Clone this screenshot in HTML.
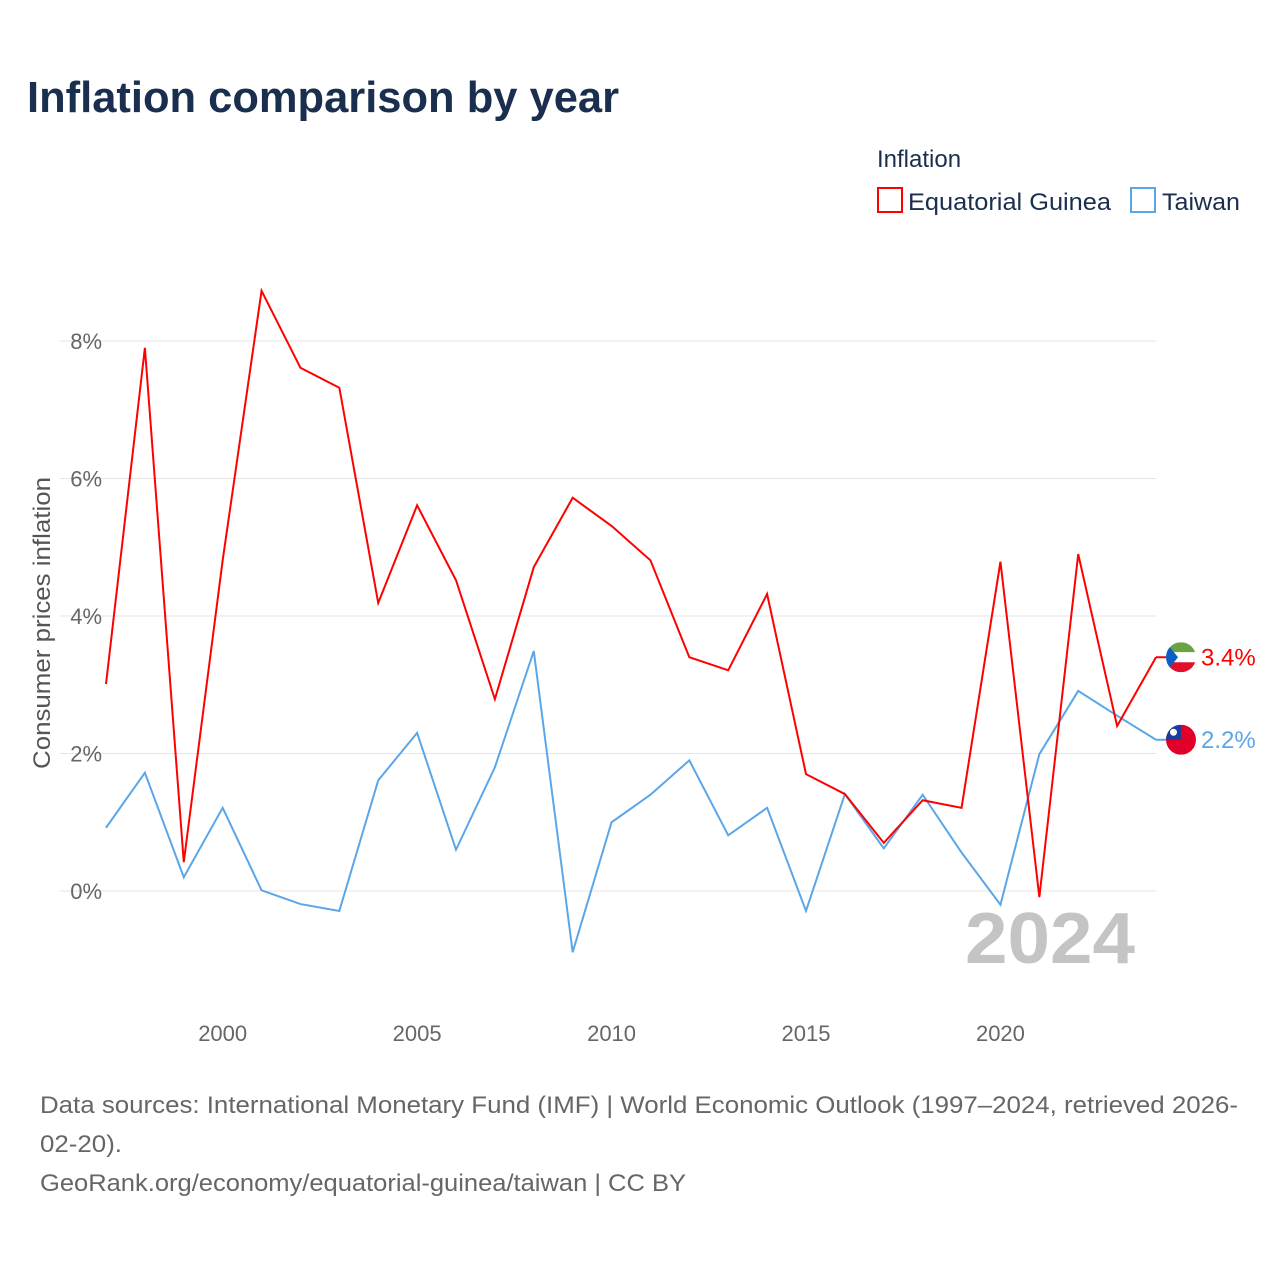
<!DOCTYPE html>
<html><head><meta charset="utf-8"><style>
body{margin:0;background:#fff;font-family:"Liberation Sans",sans-serif;}
svg text{font-family:"Liberation Sans",sans-serif;}
</style></head><body>
<svg width="1280" height="1280" viewBox="0 0 1280 1280">
<text x="27" y="112" font-size="44" font-weight="bold" fill="#1a2e4f" textLength="592" lengthAdjust="spacingAndGlyphs">Inflation comparison by year</text>
<text x="877" y="167" font-size="24" fill="#1a2e4f">Inflation</text>
<g>
<rect x="878" y="188" width="24" height="24" fill="none" stroke="#ff0000" stroke-width="2"/>
<text x="908" y="210" font-size="24" fill="#1a2e4f" textLength="203" lengthAdjust="spacingAndGlyphs">Equatorial Guinea</text></g>
<g>
<rect x="1131" y="188" width="24" height="24" fill="none" stroke="#5aa6e8" stroke-width="2"/>
<text x="1162" y="210" font-size="24" fill="#1a2e4f" textLength="78" lengthAdjust="spacingAndGlyphs">Taiwan</text></g>
<g id="grid"></g>
<g id="yticks"></g>
<g id="xticks"></g>
<text x="50" y="623" font-size="24" fill="#555" transform="rotate(-90 50 623)" text-anchor="middle" textLength="292" lengthAdjust="spacingAndGlyphs">Consumer prices inflation</text>
<text x="1135" y="963" font-size="72" font-weight="bold" fill="#c4c4c4" text-anchor="end" textLength="170" lengthAdjust="spacingAndGlyphs">2024</text>
<g id="series"></g>
<g font-size="24" fill="#666">
<text x="40" y="1113" textLength="1198" lengthAdjust="spacingAndGlyphs">Data sources: International Monetary Fund (IMF) | World Economic Outlook (1997–2024, retrieved 2026-</text>
<text x="40" y="1152" textLength="82" lengthAdjust="spacingAndGlyphs">02-20).</text>
<text x="40" y="1191" textLength="646" lengthAdjust="spacingAndGlyphs">GeoRank.org/economy/equatorial-guinea/taiwan | CC BY</text>
</g>
</svg>
<script>
const years=[1997,1998,1999,2000,2001,2002,2003,2004,2005,2006,2007,2008,2009,2010,2011,2012,2013,2014,2015,2016,2017,2018,2019,2020,2021,2022,2023,2024];
const equatorialGuinea=[3.01,7.9,0.42,4.81,8.73,7.61,7.32,4.19,5.61,4.52,2.79,4.71,5.72,5.31,4.81,3.40,3.21,4.32,1.70,1.41,0.70,1.32,1.21,4.79,-0.09,4.90,2.40,3.4];
const taiwan=[0.92,1.72,0.20,1.21,0.01,-0.19,-0.29,1.61,2.30,0.60,1.80,3.49,-0.89,1.0,1.40,1.9,0.81,1.21,-0.29,1.41,0.62,1.40,0.56,-0.2,1.99,2.91,2.55,2.20];
const yTicks=[0,2,4,6,8];
const xTicks=[2000,2005,2010,2015,2020];
const NS="http://www.w3.org/2000/svg";
const X=y=>106+(y-1997)*(1156-106)/27;
const Y=v=>891-v*68.75;
function mk(t,a,p){const e=document.createElementNS(NS,t);for(const k in a)e.setAttribute(k,a[k]);p.appendChild(e);return e;}
const grid=document.getElementById('grid'),yt=document.getElementById('yticks'),xt=document.getElementById('xticks'),ser=document.getElementById('series');
yTicks.forEach(v=>{
const l=mk('line',{x1:60,x2:1156,y1:Y(v),y2:Y(v),stroke:'#e6e6e6','stroke-width':1},grid);


const t=mk('text',{x:102,y:Y(v)+8,'font-size':22,fill:'#666','text-anchor':'end'},yt);t.textContent=v+'%';


});
xTicks.forEach(v=>{
const t=mk('text',{x:X(v),y:1041,'font-size':22,fill:'#666','text-anchor':'middle'},xt);t.textContent=v;


});
function line(vals,col,name){
const p=mk('polyline',{points:vals.map((v,i)=>X(years[i])+','+Y(v)).join(' '),fill:'none',stroke:col,'stroke-width':2,'stroke-linejoin':'miter'},ser);


}
line(taiwan,'#5aa6e8','taiwan-line');
line(equatorialGuinea,'#ff0000','equatorial-guinea-line');
function endLabel(vals,col,name,flag){
const v=vals[vals.length-1],x=X(years[years.length-1]),y=Y(v);
mk('line',{x1:x,x2:x+10,y1:y,y2:y,stroke:col,'stroke-width':2},ser);
const g=mk('g',{},ser);


flag(g,x+25,y);
const t=mk('text',{x:x+45,y:y+8,'font-size':24,fill:col},ser);t.textContent=v.toFixed(1)+'%';


}
endLabel(equatorialGuinea,'#ff0000','equatorial-guinea',(g,cx,cy)=>{
mk('clipPath',{id:'c1'},g).appendChild(document.createElementNS(NS,'circle')).setAttribute('r',15);
const cp=g.lastChild.firstChild;cp.setAttribute('cx',cx);cp.setAttribute('cy',cy);
const h=mk('g',{'clip-path':'url(#c1)'},g);
mk('rect',{x:cx-15,y:cy-15,width:30,height:10,fill:'#6ba245'},h);
mk('rect',{x:cx-15,y:cy-5,width:30,height:10,fill:'#fff'},h);
mk('rect',{x:cx-15,y:cy+5,width:30,height:10,fill:'#e0102a'},h);
mk('polygon',{points:(cx-15)+','+(cy-15)+' '+(cx-3)+','+cy+' '+(cx-15)+','+(cy+15),fill:'#0a5fc2'},h);
});
endLabel(taiwan,'#5aa6e8','taiwan',(g,cx,cy)=>{
mk('clipPath',{id:'c2'},g).appendChild(document.createElementNS(NS,'circle')).setAttribute('r',15);
const cp=g.lastChild.firstChild;cp.setAttribute('cx',cx);cp.setAttribute('cy',cy);
const h=mk('g',{'clip-path':'url(#c2)'},g);
mk('rect',{x:cx-15,y:cy-15,width:30,height:30,fill:'#e0002a'},h);
mk('rect',{x:cx-15,y:cy-15,width:15,height:15,fill:'#1a3d9a'},h);
mk('circle',{cx:cx-7.5,cy:cy-7.5,r:3.5,fill:'#fff'},h);
});
</script>
</body></html>
